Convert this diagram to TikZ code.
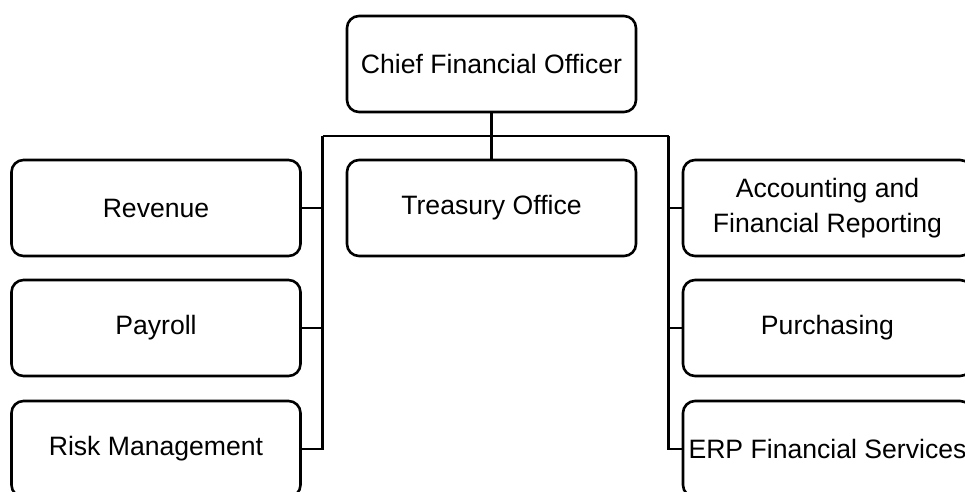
\documentclass[tikz,border=0pt]{standalone}
\usepackage{fontspec}
\setmainfont{Liberation Sans}
\begin{document}
\begin{tikzpicture}[x=1pt,y=-1pt,
  unit/.style={draw=black, line width=2.6pt, rounded corners=12pt, fill=white,
    minimum width=289pt, minimum height=96pt, align=center, inner sep=0pt,
    font=\fontsize{26.6}{35}\selectfont},
  link/.style={draw=black, line width=2.6pt}]
  \useasboundingbox (0,0) rectangle (965,491);
  \clip (0,0) rectangle (965,491);

  % top level
  \node[unit] (cfo) at (491.5,64) {Chief Financial Officer};
  \node[unit] (treasury) at (491.5,208) {Treasury Office};

  % left column
  \node[unit] (revenue) at (156,208) {Revenue};
  \node[unit] (payroll) at (156,328) {Payroll};
  \node[unit] (risk) at (156,449) {Risk Management};

  % right column
  \node[unit] (acct) at (827.5,208) {Accounting and\\Financial Reporting};
  \node[unit] (purch) at (827.5,328) {Purchasing};
  \node[unit] (erp) at (827.5,449) {ERP Financial Services};

  % bus and trunks
  \coordinate (busL) at (322.5,136);
  \coordinate (busR) at (668.5,136);
  \draw[link] (cfo.south) -- (treasury.north);
  \draw[link] (busL) -- (busR);
  \draw[link] (busL) -- (busL |- risk.east) -- (risk.east);
  \draw[link] (revenue.east) -- (busL |- revenue.east);
  \draw[link] (payroll.east) -- (busL |- payroll.east);
  \draw[link] (busR) -- (busR |- erp.west) -- (erp.west);
  \draw[link] (acct.west) -- (busR |- acct.west);
  \draw[link] (purch.west) -- (busR |- purch.west);
\end{tikzpicture}
\end{document}
